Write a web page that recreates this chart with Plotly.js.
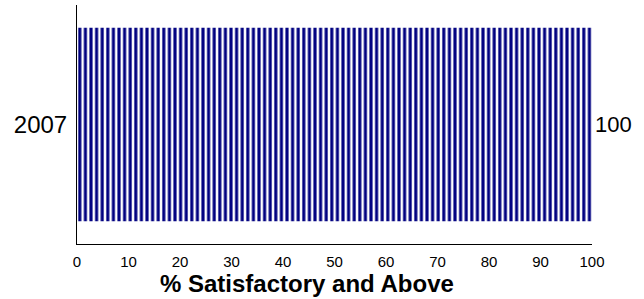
<!DOCTYPE html>
<html>
<head>
<script src="https://cdn.plot.ly/plotly-3.0.1.min.js"></script>
<style>body{margin:0;padding:0;}#chart{width:644px;height:299px;}</style>
</head>
<body>
<div id="chart"></div>
<script>
var categories = ["2007"];
var values = [100];
var valueLabels = ["100"];
var xTicks = [0, 10, 20, 30, 40, 50, 60, 70, 80, 90, 100];
var xTitle = "% Satisfactory and Above";

var trace = {
  type: "bar",
  orientation: "h",
  y: categories,
  x: values,
  text: valueLabels,
  textposition: "outside",
  cliponaxis: false,
  textfont: {family: "Liberation Sans, Arial, sans-serif", size: 22, color: "#000"},
  width: 0.81,
  marker: {
    color: "#000080",
    line: {width: 0},
    pattern: {shape: "|", fillmode: "replace", bgcolor: "#ffffff", fgcolor: "#000080", size: 5.6, solidity: 0.55}
  },
  hoverinfo: "none"
};

var layout = {
  width: 644, height: 299,
  margin: {l: 77, r: 52, t: 5, b: 55},
  paper_bgcolor: "#fff", plot_bgcolor: "#fff",
  showlegend: false,
  font: {family: "Liberation Sans, Arial, sans-serif", color: "#000"},
  xaxis: {
    range: [0, 100], tickvals: xTicks, ticktext: xTicks.map(String),
    showgrid: false, zeroline: false, showline: true, linecolor: "#000", linewidth: 1,
    ticks: "", tickfont: {size: 15}, ticklen: 0, ticklabelstandoff: 4
  },
  yaxis: {
    type: "category", range: [-0.5, 0.5],
    showgrid: false, zeroline: false, showline: true, linecolor: "#000", linewidth: 1,
    ticks: "", tickfont: {size: 24}, ticklabelstandoff: 4
  },
  annotations: [{
    text: "<b>" + xTitle + "</b>", xref: "paper", yref: "paper",
    x: (306.5 - 77) / 515, y: 0, yshift: -39, xanchor: "center", yanchor: "middle",
    showarrow: false, font: {size: 24}
  }]
};

Plotly.newPlot("chart", [trace], layout, {staticPlot: true, displayModeBar: false});
</script>
</body>
</html>
